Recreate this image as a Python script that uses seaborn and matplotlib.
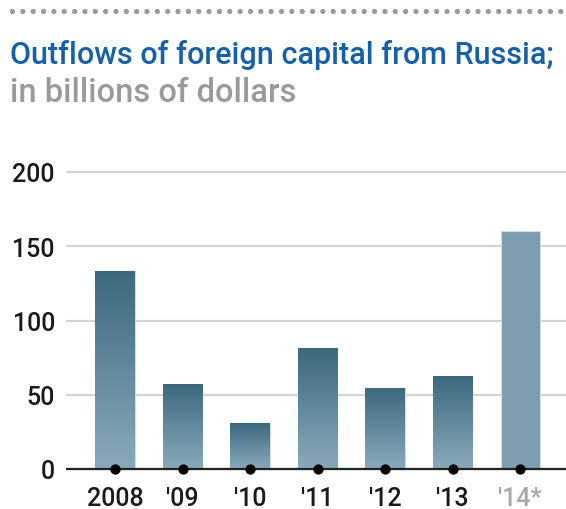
import numpy as np
import pandas as pd
import matplotlib
matplotlib.use("Agg")
import matplotlib.pyplot as plt
from matplotlib.colors import LinearSegmentedColormap
from matplotlib.lines import Line2D
import seaborn as sns

# ---- data ----
year_labels = ["2008", "'09", "'10", "'11", "'12", "'13", "'14*"]
outflows = [133.6, 57.5, 30.8, 81.4, 54.6, 62.7, 160.0]
is_estimate = [False, False, False, False, False, False, True]
y_ticks = [0, 50, 100, 150, 200]

title = "Outflows of foreign capital from Russia;"
subtitle = "in billions of dollars"

sns.set_style("white")
plt.rcParams['font.family'] = ['Roboto', 'DejaVu Sans']

W, H = 566, 510
fig = plt.figure(figsize=(W / 100, H / 100), dpi=100)

# axes geometry (pixels)
px_per_unit = 1.485
ymin, ymax = -8, 206
zero_px = 470
ax_left = 66
ax_bottom_px = zero_px - ymin * px_per_unit  # from top
ax_h = (ymax - ymin) * px_per_unit
ax = fig.add_axes([ax_left / W, (H - ax_bottom_px) / H, (W - ax_left) / W, ax_h / H])

df = pd.DataFrame({"year": year_labels, "value": outflows})
bar_colors = ["#5a8296" if not e else "#7c9db0" for e in is_estimate]
sns.barplot(data=df, x="year", y="value", hue="year", palette=bar_colors,
            legend=False, width=0.58, ax=ax, saturation=1, zorder=2)

# gradient fill on actual-data bars
cmap = LinearSegmentedColormap.from_list("g", ["#8aaabc", "#3c687d"])
grad = np.linspace(0, 1, 256).reshape(-1, 1)
for patch, est in zip(ax.patches, is_estimate):
    patch.set_edgecolor("#cfdde5")
    patch.set_linewidth(0.8)
    if est:
        continue
    x0, y0 = patch.get_x(), patch.get_y()
    w, h = patch.get_width(), patch.get_height()
    im = ax.imshow(grad, cmap=cmap, aspect="auto", origin="lower",
                   extent=[x0, x0 + w, y0, y0 + h], zorder=2.5)
    im.set_clip_path(patch)
ax.set_xlim(-0.726, len(year_labels) - 1 + 0.68)
ax.set_ylim(ymin, ymax)

# grid + zero line
ax.set_yticks(y_ticks)
ax.yaxis.grid(True, color="#d4d4d4", lw=1.6, zorder=0)
ax.xaxis.grid(False)
ax.set_axisbelow(True)
ax.axhline(0, color="#222222", lw=1.6, zorder=3)

# dots at the base of each bar
ax.scatter(np.arange(len(year_labels)), np.zeros(len(year_labels)), s=55,
           color="black", zorder=4, clip_on=False, linewidths=0)

for s in ax.spines.values():
    s.set_visible(False)
ax.set_xlabel("")
ax.set_ylabel("")
ax.tick_params(axis="both", length=0, labelsize=18)
ax.tick_params(axis="y", pad=8, labelcolor="#1a1a1a")
ax.tick_params(axis="x", pad=4)
for lbl in ax.get_yticklabels():
    lbl.set_fontweight("medium")
for lbl, est in zip(ax.get_xticklabels(), is_estimate):
    lbl.set_color("#a8a8a8" if est else "#1a1a1a")
    lbl.set_fontweight("medium")

# dotted rule at top
fig.add_artist(Line2D([12 / W, 1.0], [1 - 12 / H, 1 - 12 / H], transform=fig.transFigure,
                      color="#9a9a9a", lw=3.8, linestyle=(0, (0.01, 1.95)),
                      dash_capstyle="round"))

fig.text(10 / W, 1 - 64 / H, title, color="#1560ad", fontsize=22,
         fontweight="medium", va="baseline", ha="left")
fig.text(10 / W, 1 - 102 / H, subtitle, color="#9a9a9a", fontsize=23.5,
         fontweight="medium", va="baseline", ha="left")

fig.savefig("out.png", dpi=100)
